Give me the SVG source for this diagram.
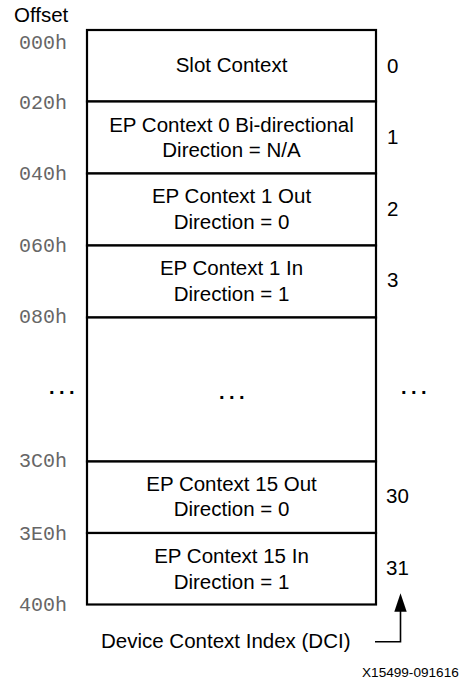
<svg xmlns="http://www.w3.org/2000/svg" width="462" height="681" viewBox="0 0 462 681">
<style>
.t{font-family:"Liberation Sans",Arial,sans-serif;font-size:20.5px;fill:#000}
.c{text-anchor:middle}
.m{font-family:"Liberation Mono","Courier New",monospace;font-size:20px;fill:#666}
.d{font-family:"Liberation Sans",Arial,sans-serif;font-size:20px;font-weight:bold;letter-spacing:4.44px;fill:#000}
.box{fill:#fff;stroke:#000;stroke-width:2.2}
.ln{fill:none;stroke:#000;stroke-width:1.6}
</style>
<rect width="462" height="681" fill="#fff"/>
<text class="t" x="14" y="22">Offset</text>
<g id="offsets">
<text class="m" x="19" y="49">000h</text>
<text class="m" x="19" y="109">020h</text>
<text class="m" x="19" y="180">040h</text>
<text class="m" x="19" y="252">060h</text>
<text class="m" x="19" y="323">080h</text>
<text class="m" x="19" y="467">3C0h</text>
<text class="m" x="19" y="540">3E0h</text>
<text class="m" x="19" y="611">400h</text>
</g>
<g id="slot"><rect class="box" x="87" y="30" width="289" height="71.5"/><text class="t c" x="231.5" y="72">Slot Context</text></g>
<g id="ep0"><rect class="box" x="87" y="101.5" width="289" height="72"/><text class="t c" x="231.5" y="132">EP Context 0 Bi-directional</text><text class="t c" x="231.5" y="157">Direction = N/A</text></g>
<g id="ep1out"><rect class="box" x="87" y="173.5" width="289" height="72"/><text class="t c" x="231.5" y="203">EP Context 1 Out</text><text class="t c" x="231.5" y="228.5">Direction = 0</text></g>
<g id="ep1in"><rect class="box" x="87" y="245.5" width="289" height="72"/><text class="t c" x="231.5" y="274.5">EP Context 1 In</text><text class="t c" x="231.5" y="300.5">Direction = 1</text></g>
<g id="gap"><rect class="box" x="87" y="317.5" width="289" height="144"/><text class="d" x="219" y="399">...</text></g>
<g id="ep15out"><rect class="box" x="87" y="461.5" width="289" height="71.5"/><text class="t c" x="231.5" y="491">EP Context 15 Out</text><text class="t c" x="231.5" y="516">Direction = 0</text></g>
<g id="ep15in"><rect class="box" x="87" y="533" width="289" height="71.5"/><text class="t c" x="231.5" y="563">EP Context 15 In</text><text class="t c" x="231.5" y="588.5">Direction = 1</text></g>
<text class="d" x="49" y="394">...</text>
<text class="d" x="401" y="394">...</text>
<g id="indices">
<text class="t" x="387" y="73">0</text>
<text class="t" x="387" y="144">1</text>
<text class="t" x="387" y="216">2</text>
<text class="t" x="387" y="287">3</text>
<text class="t" x="386" y="503">30</text>
<text class="t" x="386" y="575">31</text>
</g>
<g id="connectors">
<polyline class="ln" points="375,641.7 400.5,641.7 400.5,610"/>
<polygon points="394.3,611.7 406.7,611.7 400.5,593.3" fill="#000"/>
</g>
<text class="t" x="101" y="648">Device Context Index (DCI)</text>
<text class="t" x="362" y="677" style="font-size:13.6px">X15499-091616</text>
</svg>
